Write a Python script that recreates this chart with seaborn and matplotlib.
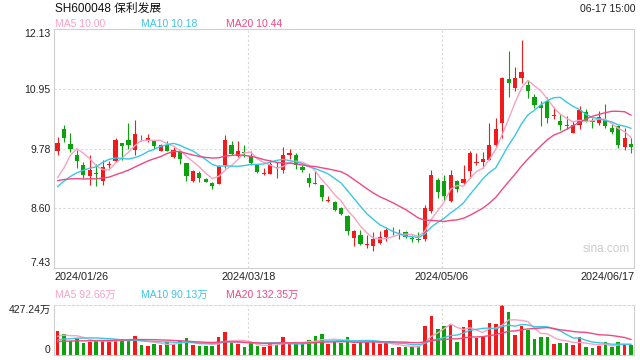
import numpy as np
import pandas as pd
import matplotlib
matplotlib.use("Agg")
import matplotlib.pyplot as plt
import seaborn as sns

# daily candles 2024/01/26 .. 2024/06/17
opens = [9.73, 10.17, 9.88, 9.65, 9.45, 9.25, 9.31, 9.14, 9.45, 9.54,
         9.90, 9.96, 9.75, 9.99, 9.96, 9.94, 9.73, 9.86, 9.62, 9.71,
         9.49, 9.15, 9.31, 9.19, 9.11, 9.08, 9.45, 9.86, 9.64, 9.71,
         9.64, 9.47, 9.29, 9.29, 9.42, 9.36, 9.66, 9.66, 9.41, 9.21,
         9.10, 9.07, 8.75, 8.72, 8.61, 8.46, 8.02, 8.08, 7.88, 7.87,
         7.92, 8.05, 8.12, 8.09, 8.13, 8.02, 8.00, 8.00, 8.55, 9.17,
         9.14, 8.75, 9.15, 9.11, 9.34, 9.50, 9.51, 9.55, 9.86, 10.29,
         11.15, 10.97, 11.17, 11.03, 10.79, 10.63, 10.71, 10.42, 10.32, 10.25,
         10.09, 10.25, 10.50, 10.33, 10.29, 10.34, 10.19, 10.22, 9.81, 9.88]
highs = [10.00, 10.25, 10.09, 9.75, 9.51, 9.65, 9.47, 9.55, 9.53, 9.99,
         9.90, 10.29, 10.35, 10.04, 10.07, 9.96, 9.88, 9.93, 9.81, 9.75,
         9.50, 9.36, 9.34, 9.20, 9.12, 9.45, 10.05, 9.93, 9.93, 9.86,
         9.73, 9.47, 9.39, 9.55, 9.52, 9.82, 9.78, 9.70, 9.45, 9.30,
         9.34, 9.07, 8.85, 8.74, 8.63, 8.47, 8.18, 8.18, 8.08, 8.13,
         8.15, 8.24, 8.24, 8.20, 8.16, 8.08, 8.13, 8.68, 9.36, 9.21,
         9.27, 9.36, 9.17, 9.45, 9.73, 9.70, 9.71, 10.29, 10.39, 11.20,
         11.71, 11.38, 11.92, 11.14, 10.86, 10.71, 10.79, 10.60, 10.47, 10.43,
         10.33, 10.61, 10.56, 10.38, 10.53, 10.65, 10.27, 10.25, 10.18, 9.98]
lows = [9.65, 9.92, 9.71, 9.39, 9.21, 9.06, 9.04, 9.06, 9.39, 9.52,
        9.55, 9.78, 9.65, 9.94, 9.92, 9.77, 9.73, 9.73, 9.60, 9.47,
        9.14, 9.12, 9.12, 9.12, 8.98, 9.08, 9.40, 9.65, 9.62, 9.62,
        9.45, 9.31, 9.26, 9.29, 9.21, 9.31, 9.58, 9.38, 9.32, 9.02,
        9.08, 8.75, 8.72, 8.56, 8.48, 8.07, 7.87, 7.89, 7.83, 7.77,
        7.91, 7.97, 8.07, 8.00, 8.02, 7.95, 7.94, 7.96, 8.52, 8.81,
        8.75, 8.72, 8.93, 9.06, 9.21, 9.45, 9.40, 9.55, 9.81, 9.99,
        10.80, 10.92, 11.08, 10.77, 10.58, 10.22, 10.29, 10.37, 10.14, 10.17,
        10.08, 10.17, 10.30, 10.18, 10.25, 10.18, 10.07, 9.80, 9.75, 9.70]
closes = [9.90, 9.99, 9.78, 9.53, 9.26, 9.36, 9.28, 9.42, 9.47, 9.96,
          9.83, 9.86, 10.07, 9.98, 9.98, 9.83, 9.86, 9.73, 9.75, 9.57,
          9.24, 9.34, 9.21, 9.13, 9.04, 9.44, 9.96, 9.67, 9.73, 9.70,
          9.49, 9.32, 9.31, 9.47, 9.39, 9.66, 9.70, 9.45, 9.36, 9.11,
          9.09, 8.83, 8.77, 8.57, 8.50, 8.15, 8.15, 7.91, 7.90, 8.00,
          8.05, 8.18, 8.11, 8.10, 8.05, 8.01, 7.99, 8.62, 9.26, 8.92,
          8.85, 9.26, 8.98, 9.19, 9.70, 9.52, 9.57, 9.86, 10.17, 11.17,
          11.07, 11.17, 11.29, 10.92, 10.63, 10.58, 10.39, 10.44, 10.24, 10.23,
          10.24, 10.54, 10.33, 10.31, 10.40, 10.22, 10.11, 9.86, 9.99, 9.81]
# volume, unit 万手
volumes = [205, 179, 122, 145, 105, 111, 120, 120, 120, 128,
           134, 122, 162, 85, 77, 94, 85, 114, 91, 120,
           145, 85, 77, 77, 77, 154, 196, 103, 94, 68,
           103, 77, 68, 103, 85, 154, 103, 94, 94, 128,
           162, 179, 94, 111, 103, 154, 94, 111, 111, 111,
           94, 103, 60, 68, 68, 68, 77, 248, 333, 222,
           248, 265, 111, 242, 299, 148, 162, 273, 265, 427,
           367.7, 171, 248, 214, 137, 154, 154, 94, 103, 103,
           84, 152, 67, 59, 76, 111.5, 68.5, 112, 85.5, 85.8]
# sessions before the visible window, only feed the moving averages
pre_close = [9.55, 9.50, 9.45, 9.40, 9.32, 9.25, 9.15, 9.10, 9.03, 8.95,
             8.90, 8.85, 8.80, 8.78, 8.92, 9.04, 8.53, 8.88, 9.70]
pre_vol = [105, 98, 110, 95, 102, 90, 100, 108, 95, 97,
           92, 100, 95, 98, 95, 130, 145, 150, 170]

date_labels = ["2024/01/26", "2024/03/18", "2024/05/06", "2024/06/17"]
date_idx = [0, 30, 60, 89]
price_ticks = [7.43, 8.605, 9.78, 10.955, 12.13]
price_labels = ["7.43", "8.60", "9.78", "10.95", "12.13"]
vol_max = 427.24

RED = "#f21b1b"
GREEN = "#0ea10e"
C_MA5 = "#f9a2c4"
C_MA10 = "#3cc6e4"
C_MA20 = "#ee4a80"
GRID = "#d8d8d8"
EDGE = "#cfcfcf"

df = pd.DataFrame({"open": opens, "high": highs, "low": lows,
                   "close": closes, "vol": volumes})
df["idx"] = np.arange(len(df))
df["color"] = np.where(df["close"] >= df["open"], RED, GREEN)

all_close = pd.Series(pre_close + closes)
all_vol = pd.Series(pre_vol + volumes)
n_pre = len(pre_close)
for w in (5, 10, 20):
    df[f"ma{w}"] = all_close.rolling(w).mean().iloc[n_pre:].to_numpy()
    df[f"vma{w}"] = all_vol.rolling(w).mean().iloc[n_pre:].to_numpy()

sns.set_theme(style="white")
plt.rcParams["font.family"] = ["Liberation Sans", "Noto Sans CJK SC", "DejaVu Sans"]

fig = plt.figure(figsize=(6.4, 3.6), dpi=100)
L, R = 54.3 / 640, 634.3 / 640
ax = fig.add_axes([L, 1 - 268 / 360, R - L, (268 - 29.3) / 360])
axv = fig.add_axes([L, 1 - 355 / 360, R - L, 50 / 360])

# candles
ax.vlines(df["idx"], df["low"], df["high"], colors=df["color"], lw=0.8, zorder=2)
body_lo = df[["open", "close"]].min(axis=1)
body_h = (df["close"] - df["open"]).abs().clip(lower=0.015)
ax.bar(df["idx"], body_h, bottom=body_lo, width=0.66, color=df["color"],
       linewidth=0, zorder=3)

for col, c in (("ma5", C_MA5), ("ma10", C_MA10), ("ma20", C_MA20)):
    sns.lineplot(data=df, x="idx", y=col, ax=ax, color=c, lw=1.0, zorder=4)

ax.set_xlim(-0.5, len(df) - 0.5)
ax.set_ylim(price_ticks[0], price_ticks[-1])
ax.set_yticks(price_ticks)
ax.set_yticklabels(price_labels, fontsize=7.5, color="#222222")
ax.set_xticks([])
ax.set_xlabel("")
ax.set_ylabel("")
ax.tick_params(axis="y", length=0, pad=2.5)
tl = ax.get_yticklabels()
tl[0].set_va("bottom")
tl[-1].set_va("top")
for v in price_ticks[1:-1]:
    ax.axhline(v, color=GRID, lw=0.8, ls=(0, (2, 2)), zorder=1)
for d in date_idx[1:3]:
    ax.axvline(d - 0.4, color=GRID, lw=0.8, ls=(0, (2, 2)), zorder=1)
for s in ax.spines.values():
    s.set_color(EDGE)
    s.set_linewidth(0.8)

# date labels under the price panel
ha = ["left", "center", "center", "right"]
xs = [-0.5, date_idx[1] - 0.4, date_idx[2] - 0.4, len(df) - 0.5]
for x, lab, h in zip(xs, date_labels, ha):
    ax.text(x, -9.3 / 238.7, lab, transform=ax.get_xaxis_transform(),
            ha=h, va="center", fontsize=7.8, color="#222222")

# volume panel
axv.bar(df["idx"], df["vol"], width=0.55, color=df["color"], linewidth=0, zorder=2)
for col, c in (("vma5", C_MA5), ("vma10", C_MA10), ("vma20", C_MA20)):
    sns.lineplot(data=df, x="idx", y=col, ax=axv, color=c, lw=1.0, zorder=3)
axv.set_xlim(-0.5, len(df) - 0.5)
axv.set_ylim(0, vol_max)
axv.set_yticks([0, vol_max])
axv.set_yticklabels(["0", "427.24万"], fontsize=7.5, color="#222222")
axv.set_xticks([])
axv.set_xlabel("")
axv.set_ylabel("")
axv.tick_params(axis="y", length=0, pad=2.5)
vl = axv.get_yticklabels()
vl[0].set_va("bottom")
vl[-1].set_va("top")
for d in date_idx[1:3]:
    axv.axvline(d - 0.4, color=GRID, lw=0.8, ls=(0, (2, 2)), zorder=1)
for s in axv.spines.values():
    s.set_color(EDGE)
    s.set_linewidth(0.8)
axv.spines["top"].set_linestyle((0, (2, 2)))
axv.spines["top"].set_color(GRID)

# header texts
fig.text(55 / 640, 1 - 8.5 / 360, "SH600048 保利发展", fontsize=8.5,
         color="#111111", va="center", ha="left")
fig.text(636 / 640, 1 - 8.5 / 360, "06-17 15:00", fontsize=7.5,
         color="#222222", va="center", ha="right")

last = df.iloc[-1]
for x, txt, c in ((55, f"MA5 {last['ma5']:.2f}", C_MA5),
                  (140.7, f"MA10 {last['ma10']:.2f}", C_MA10),
                  (226.5, f"MA20 {last['ma20']:.2f}", C_MA20)):
    fig.text(x / 640, 1 - 24.3 / 360, txt, fontsize=7.5, color=c, va="center")
for x, txt, c in ((55, f"MA5 {last['vma5']:.2f}万", C_MA5),
                  (140.7, f"MA10 {last['vma10']:.2f}万", C_MA10),
                  (226.5, f"MA20 {last['vma20']:.2f}万", C_MA20)):
    fig.text(x / 640, 1 - 295 / 360, txt, fontsize=7.5, color=c, va="center")

fig.text(583 / 640, 1 - 249.5 / 360, "sina.com", fontsize=8.5,
         color="#cccccc", va="center", ha="left")

fig.savefig("out.png", dpi=100)
